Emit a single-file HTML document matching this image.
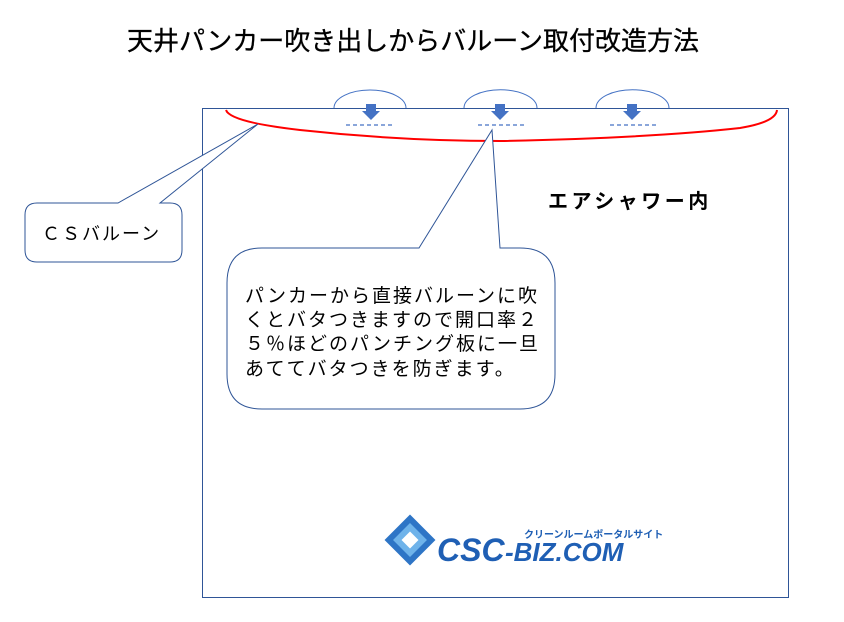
<!DOCTYPE html>
<html><head><meta charset="utf-8"><style>
body{margin:0;background:#fff;}
svg{display:block;font-family:"Liberation Sans","Noto Sans CJK JP",sans-serif;}
</style></head><body>
<svg width="844" height="622" viewBox="0 0 844 622" xmlns="http://www.w3.org/2000/svg">
<rect width="844" height="622" fill="#fff"/>
<text x="413" y="50" font-size="26" text-anchor="middle" fill="#000" stroke="#000" stroke-width="0.3">天井パンカー吹き出しからバルーン取付改造方法</text>
<rect x="202.5" y="108.5" width="586" height="489" fill="none" stroke="#2f5597" stroke-width="1"/>
<path d="M334 108 A36 18 0 0 1 406 108" fill="none" stroke="#4472c4" stroke-width="1"/>
<path d="M464 108 A36 18 0 0 1 537 108" fill="none" stroke="#4472c4" stroke-width="1"/>
<path d="M596 108 A36 18 0 0 1 669 108" fill="none" stroke="#4472c4" stroke-width="1"/>
<g fill="#4472c4">
<path d="M366 104 h10 v7 h4 l-9 9 l-9 -9 h4z"/>
<path d="M495 104 h10 v7 h4 l-9 9 l-9 -9 h4z"/>
<path d="M627 104 h10 v7 h4 l-9 9 l-9 -9 h4z"/>
</g>
<g stroke="#4472c4" stroke-width="1.2" stroke-dasharray="4,3">
<line x1="346" y1="125" x2="394" y2="125"/>
<line x1="478" y1="125" x2="526" y2="125"/>
<line x1="610" y1="125" x2="658" y2="125"/>
</g>
<path d="M226 110 Q230 122 300 130 Q400 141 500 141 Q650 138 740 128 Q776 122 777 110" fill="none" stroke="#ff0000" stroke-width="2"/>
<text x="548" y="208" font-size="20" font-weight="bold" letter-spacing="3.5" fill="#000">エアシャワー内</text>
<path d="M37 203 H118 L258 124 L160 203 H170 Q182 203 182 215 V250 Q182 262 170 262 H37 Q25 262 25 250 V215 Q25 203 37 203Z" fill="#fff" stroke="#2f5597" stroke-width="1"/>
<text x="42" y="240" font-size="18" letter-spacing="2" fill="#000">ＣＳバルーン</text>
<path d="M262 248 H419 L492 130 L500 248 H520 Q555 248 555 283 V374 Q555 409 520 409 H262 Q227 409 227 374 V283 Q227 248 262 248Z" fill="#fff" stroke="#2f5597" stroke-width="1"/>
<g font-size="19" fill="#000" letter-spacing="2">
<text x="245" y="302">パンカーから直接バルーンに吹</text>
<text x="245" y="326">くとバタつきますので開口率２</text>
<text x="245" y="350">５％ほどのパンチング板に一旦</text>
<text x="245" y="375">あててバタつきを防ぎます。</text>
</g>
<g transform="translate(410 540) rotate(45)">
<rect x="-18" y="-18" width="36" height="36" fill="#2e75c6"/>
<rect x="-12" y="-12" width="24" height="24" fill="#6fb3ea"/>
<rect x="-6" y="-6" width="12" height="12" fill="#fff"/>
</g>
<text x="437" y="561" font-size="32" font-weight="bold" font-style="italic" fill="#1f5fb4">CSC</text>
<text x="505" y="561" font-size="26" font-weight="bold" font-style="italic" fill="#1f5fb4">-BIZ.COM</text>
<text x="524" y="538" font-size="10" font-weight="bold" fill="#1f5fb4">クリーンルームポータルサイト</text>
</svg>
</body></html>
